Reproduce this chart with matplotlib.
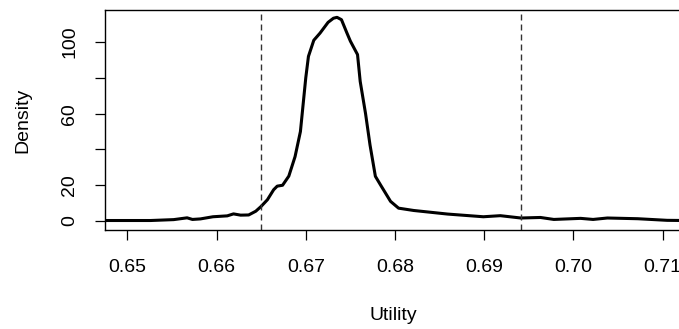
import matplotlib
matplotlib.use("Agg")
import matplotlib.pyplot as plt

plt.rcParams['font.family'] = ['Liberation Sans', 'DejaVu Sans']

# density curve
utility = [0.6475, 0.6526, 0.6552, 0.6567, 0.6573, 0.6582, 0.6596, 0.6612,
           0.6619, 0.6627, 0.6636, 0.6644, 0.6650, 0.6657, 0.6664, 0.6668,
           0.6674, 0.6681, 0.6688, 0.6694, 0.6700, 0.6703, 0.6709, 0.6716,
           0.6725, 0.6731, 0.6735, 0.6740, 0.6746, 0.6750, 0.6758, 0.6761,
           0.6767, 0.6772, 0.6778, 0.6784, 0.6795, 0.6804, 0.6821, 0.6859,
           0.6899, 0.6918, 0.6941, 0.6963, 0.6978, 0.7008, 0.7022, 0.7038,
           0.7072, 0.7105, 0.7126]
density = [0.3, 0.3, 0.8, 1.8, 0.9, 1.2, 2.4, 2.9,
           4.0, 3.3, 3.4, 5.5, 8.2, 11.9, 17.5, 19.5,
           20.0, 25.1, 36.0, 50.0, 80.0, 92.0, 101.0, 105.0,
           111.0, 113.3, 113.8, 112.5, 105.2, 100.5, 93.0, 78.0,
           60.0, 42.5, 25.0, 20.0, 11.0, 7.2, 5.9, 3.9,
           2.4, 3.0, 1.7, 2.0, 0.9, 1.5, 0.9, 1.7,
           1.3, 0.4, 0.3]

bounds = [0.6650, 0.6941]
xticks = [0.65, 0.66, 0.67, 0.68, 0.69, 0.70, 0.71]
yticks = [0, 20, 40, 60, 80, 100]
ylabels = ['0', '20', '', '60', '', '100']

fig = plt.figure(figsize=(6.79, 3.29), dpi=100)
ax = fig.add_axes([105/679, 1 - 230/329, 580/679, 220/329])

ax.plot(utility, density, color='black', lw=2.2, solid_joinstyle='round')
for b in bounds:
    ax.axvline(b, color='#333333', lw=1, dashes=(4.3, 2.9))

ax.set_xlim(0.6475, 0.7125)
ax.set_ylim(-5.0, 117.9)

ax.set_xticks(xticks)
ax.set_xticklabels([f'{t:.2f}' for t in xticks])
ax.set_yticks(yticks)
ax.set_yticklabels(ylabels, rotation=90, va='center')

ax.tick_params(direction='out', length=7.2, width=0.9, labelsize=14,
               colors='black')
ax.tick_params(axis='x', pad=13.5)
ax.tick_params(axis='y', pad=12)
for s in ax.spines.values():
    s.set_linewidth(1.0)

fig.text(393/679, 1 - 315/329, 'Utility', ha='center', va='center', fontsize=14)
fig.text(23/679, 1 - 120/329, 'Density', ha='center', va='center',
         rotation=90, fontsize=14)

fig.savefig('out.png', dpi=100)
